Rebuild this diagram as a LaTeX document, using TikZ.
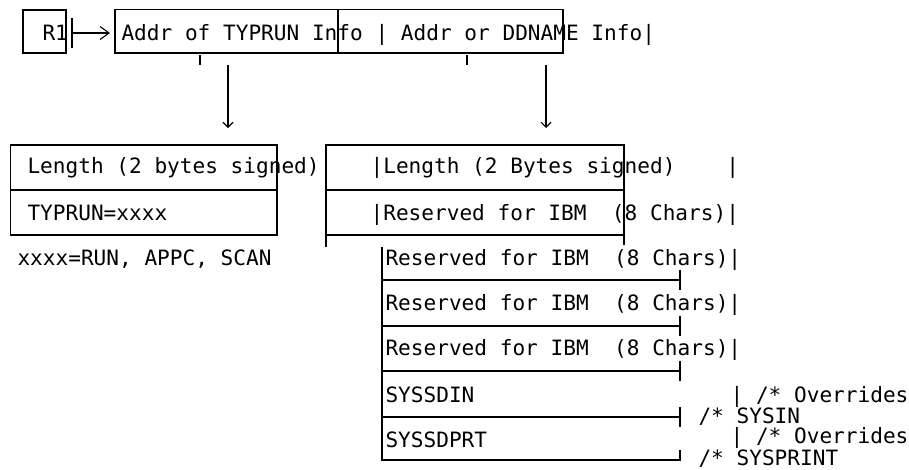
\documentclass[tikz,border=0pt]{standalone}
\usepackage{fontspec}
\setmonofont{DejaVu Sans Mono}
\usetikzlibrary{arrows.meta}
\begin{document}
\begin{tikzpicture}[x=1pt,y=-1pt,
  ln/.style={line width=1.1pt},
  boxn/.style={draw, line width=1.1pt, inner sep=0pt, outer sep=0pt},
  tx/.style={font=\fontsize{21.1}{25}\selectfont\ttfamily, anchor=base west, inner sep=0pt, outer sep=0pt},
  barb/.style={-{Straight Barb[length=9pt,width=13pt,line width=1.1pt]}},
  dnarr/.style={-{Straight Barb[length=5pt,width=10pt,line width=1.1pt]}}]
\fill[white] (0,0) rectangle (909,469);
\useasboundingbox (0,0) rectangle (909,469);

% ---- top row ----
\node[boxn, minimum width=43pt, minimum height=43pt] (r1) at (44.5,31.5) {};
\node[tx] (tr1) at (42.5,40) {R1};
\node[boxn, minimum width=448pt, minimum height=43.5pt] (top) at (339,31.25) {};
\draw[ln] (338,9.5) -- (338,53);
\node[tx] (ttop) at (121.5,40) {Addr of TYPRUN Info | Addr or DDNAME Info|};
% R1 -> top
\coordinate (r1o) at (72,33);
\coordinate (topi) at (110,33);
\draw[ln] (72,18) -- (72,48);
\draw[ln,barb] (r1o) -- (topi);

% ticks and down arrows
\draw[ln] (200,55) -- (200,65);
\draw[ln] (467,55) -- (467,65);
\coordinate (a1s) at (228,65);
\coordinate (a1e) at (228,128);
\coordinate (a2s) at (546,65);
\coordinate (a2e) at (546,128);
\draw[ln,dnarr] (a1s) -- (a1e);
\draw[ln,dnarr] (a2s) -- (a2e);

% ---- left box ----
\node[boxn, minimum width=266.3pt, minimum height=90pt] (lb) at (143.85,190) {};
\draw[ln] (10.7,190) -- (277,190);
\node[tx] (l1) at (27.5,173) {Length (2 bytes signed)};
\node[tx] (l2) at (27.5,220) {TYPRUN=xxxx};
\node[tx] (l3) at (17.5,265) {xxxx=RUN, APPC, SCAN};

% ---- right upper box ----
\node[boxn, minimum width=298pt, minimum height=90pt] (rb) at (475,190) {};
\draw[ln] (326,190) -- (624,190);
\draw[ln] (326,235) -- (326,247);
\draw[ln] (624,235) -- (624,245);
\node[tx] (r1t) at (370.6,173) {|Length (2 Bytes signed)\ \ \ \ |};
\node[tx] (r2t) at (370.6,220) {|Reserved for IBM\ \ (8 Chars)|};

% ---- lower stack ----
\draw[ln] (382,247) -- (382,460) -- (680,460) -- (680,450);
\foreach \yy in {280,326,371,417} {
  \draw[ln] (382,\yy) -- (680,\yy);
  \draw[ln] (680,\yy-10) -- (680,\yy+10);
}
\node[tx] (s1) at (385.5,265) {Reserved for IBM\ \ (8 Chars)|};
\node[tx] (s2) at (385.5,310) {Reserved for IBM\ \ (8 Chars)|};
\node[tx] (s3) at (385.5,355) {Reserved for IBM\ \ (8 Chars)|};
\node[tx] (s4) at (385.5,402) {SYSSDIN};
\node[tx] (s4c) at (730.6,402) {| /* Overrides};
\node[tx] (s4d) at (698.5,423) {/* SYSIN};
\node[tx] (s5) at (385.5,447) {SYSSDPRT};
\node[tx] (s5c) at (730.6,443.5) {| /* Overrides};
\node[tx] (s5d) at (698.5,465.5) {/* SYSPRINT};
\end{tikzpicture}
\end{document}
